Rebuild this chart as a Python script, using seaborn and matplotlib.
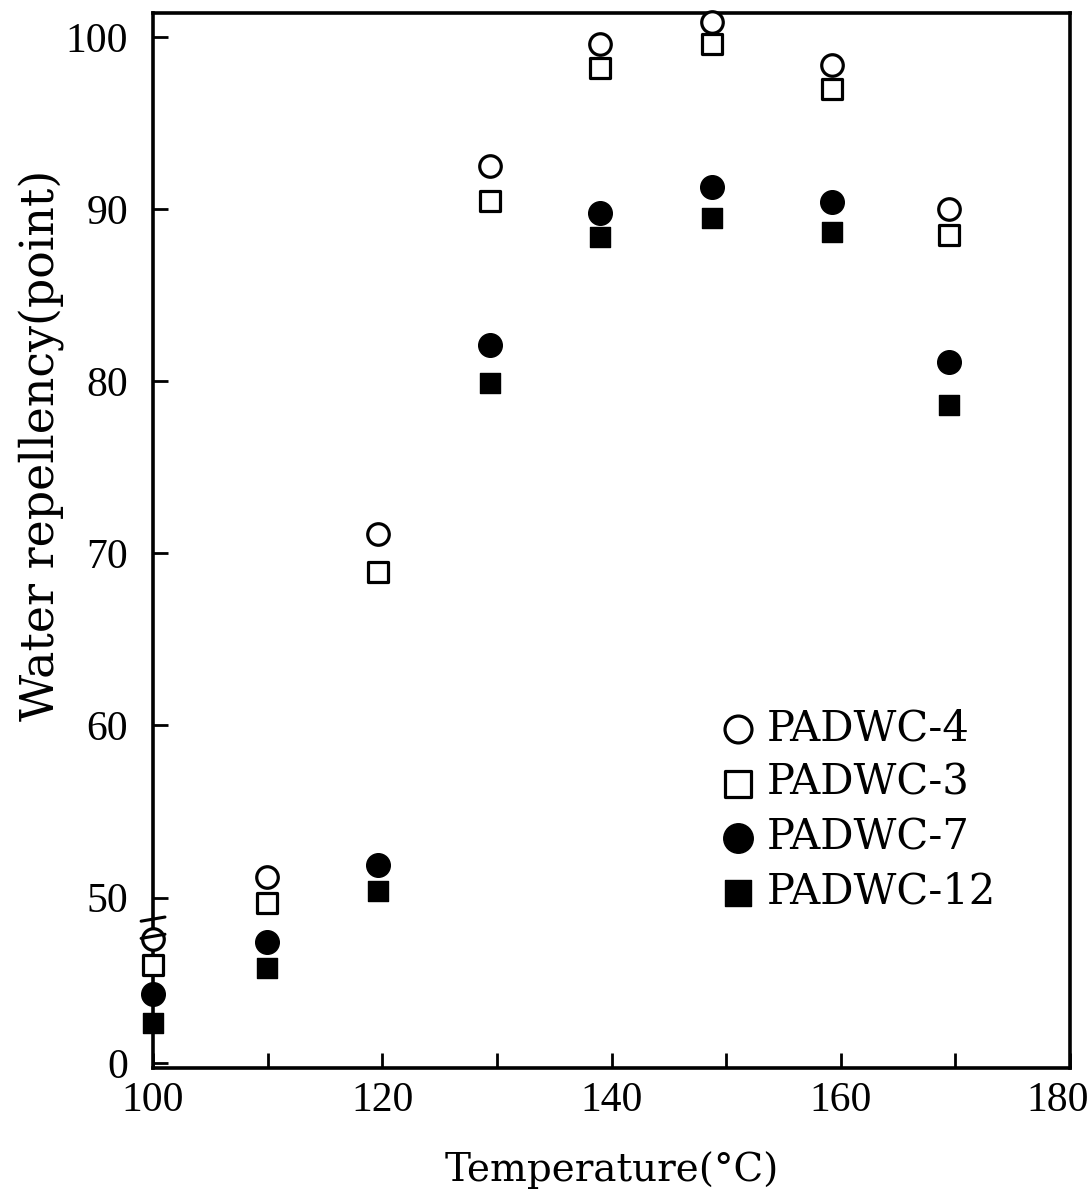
import matplotlib
matplotlib.use('Agg')
import matplotlib.pyplot as plt
import matplotlib.transforms as mtransforms
import seaborn as sns
import pandas as pd

# temperatures (points sit slightly left of the ticks)
temps = [100, 109.9, 119.6, 129.4, 139.0, 148.8, 159.2, 169.4]

padwc_4 = [47.6, 51.2, 71.1, 92.5, 99.6, 100.9, 98.4, 90.0]
padwc_3 = [46.1, 49.7, 68.9, 90.5, 98.2, 99.6, 97.0, 88.5]
padwc_7 = [44.4, 47.4, 51.9, 82.1, 89.8, 91.3, 90.4, 81.1]
padwc_12 = [42.7, 45.9, 50.4, 79.9, 88.4, 89.5, 88.7, 78.6]

series_names = ['PADWC-4', 'PADWC-3', 'PADWC-7', 'PADWC-12']
x_ticks = [100, 120, 140, 160, 180]
y_ticks = [50, 60, 70, 80, 90, 100]


def main():
    sns.set_style('ticks')
    plt.rcParams['font.family'] = ['DejaVu Serif']
    plt.rcParams['text.color'] = 'black'
    plt.rcParams['axes.labelcolor'] = 'black'

    df = pd.DataFrame({
        'temp': temps * 4,
        'value': padwc_4 + padwc_3 + padwc_7 + padwc_12,
        'series': [s for s in series_names for _ in temps],
    })

    fig = plt.figure(figsize=(10.9, 12.02), dpi=100)
    ax = fig.add_axes([0.1404, 0.1115, 0.8413, 0.8777])

    styles = {
        'PADWC-4': dict(marker='o', s=15.5 ** 2, facecolor='white', edgecolor='black', linewidth=2.3),
        'PADWC-3': dict(marker='s', s=15 ** 2, facecolor='white', edgecolor='black', linewidth=2.3),
        'PADWC-7': dict(marker='o', s=17 ** 2, facecolor='black', edgecolor='black', linewidth=1),
        'PADWC-12': dict(marker='s', s=15 ** 2, facecolor='black', edgecolor='black', linewidth=1),
    }
    for name in series_names:
        sub = df[df['series'] == name]
        sns.scatterplot(data=sub, x='temp', y='value', ax=ax, label=name,
                        clip_on=False, zorder=5, **styles[name])

    ax.set_xlim(100, 180)
    ax.set_ylim(40.1, 101.4)
    ax.set_xticks(x_ticks)
    ax.set_xticks(list(range(110, 180, 20)), minor=True)
    ax.set_yticks([40.4] + y_ticks)
    ax.set_yticklabels(['0'] + [str(v) for v in y_ticks])

    ax.tick_params(axis='both', which='both', direction='in', length=11, width=2,
                   labelsize=30, colors='black')
    ax.tick_params(axis='y', pad=18)
    ax.tick_params(axis='x', pad=10)
    for lab in ax.get_xticklabels() + ax.get_yticklabels():
        lab.set_family('Liberation Serif')
    # last x label sits a little inside the right edge, as in the scan
    last = ax.get_xticklabels()[-1]
    last.set_transform(last.get_transform() +
                       mtransforms.ScaledTranslation(-0.12, 0, fig.dpi_scale_trans))

    for sp in ax.spines.values():
        sp.set_linewidth(2.6)
        sp.set_color('black')

    ax.set_xlabel('Temperature(°C)', fontsize=28, labelpad=22)
    ax.set_ylabel('Water repellency(point)', fontsize=33)
    ax.yaxis.set_label_coords(-0.096, 0.59)

    # axis break marks on the y axis
    trans = mtransforms.blended_transform_factory(ax.transAxes, ax.transData)
    for yb in (48.75, 47.75):
        ax.plot([-0.013, 0.013], [yb - 0.12, yb + 0.12], color='black', lw=2.2,
                transform=trans, clip_on=False, zorder=6)

    ax.legend(loc='upper left', bbox_to_anchor=(0.635, 0.429),
              bbox_transform=fig.transFigure, frameon=False,
              fontsize=30, markerscale=1.25, handletextpad=0.1,
              labelspacing=0.3, borderpad=0, handlelength=1.2)

    fig.savefig('out.png', dpi=100)


if __name__ == '__main__':
    main()
